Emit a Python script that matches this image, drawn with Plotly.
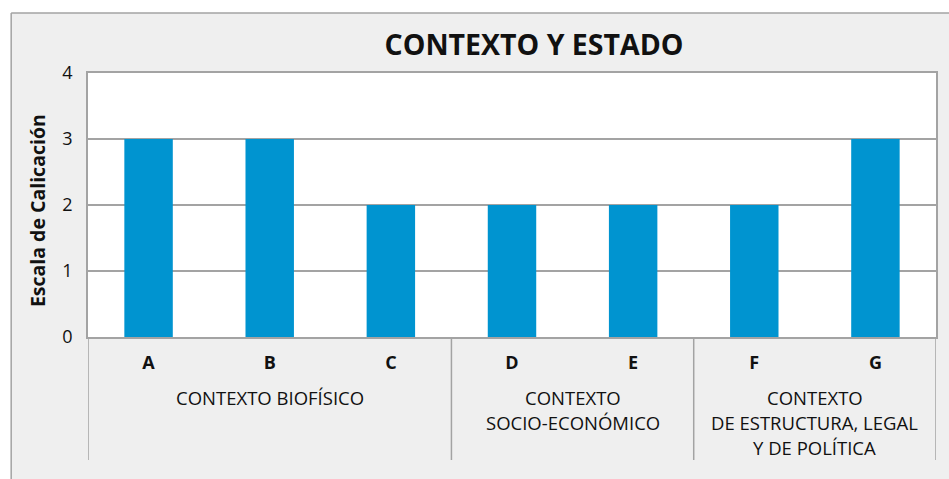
import plotly.graph_objects as go

# ---- data ----
categories = ["A", "B", "C", "D", "E", "F", "G"]
values = [3, 3, 2, 2, 2, 2, 3]
group_labels = [
    "CONTEXTO BIOFÍSICO",
    "CONTEXTO\nSOCIO-ECONÓMICO",
    "CONTEXTO\nDE ESTRUCTURA, LEGAL\nY DE POLÍTICA",
]
group_sizes = [3, 2, 2]
y_ticks = [0, 1, 2, 3, 4]
title_text = "CONTEXTO Y ESTADO"
y_title = "Escala de Calicación"

# ---- layout geometry (pixels) ----
W_FIG, H_FIG = 949, 479
L, R, T, B = 88, 11, 73, 142
PW = W_FIG - L - R
PH = H_FIG - T - B
FONT = "Open Sans"
GRID = "#a3a3a3"
BG = "#efefef"
BAR = "#0094d0"


def fx(px):
    return (px - L) / PW


def fy(py):
    return (H_FIG - B - py) / PH


fig = go.Figure()
fig.add_trace(go.Bar(
    x=categories, y=values, width=0.4,
    marker=dict(color=BAR, line=dict(width=0)),
    hoverinfo="x+y",
))

shapes = []
# white margins outside the grey frame
shapes.append(dict(type="rect", xref="paper", yref="paper", layer="below",
                   x0=fx(-10), x1=fx(11), y0=fy(-10), y1=fy(500),
                   fillcolor="white", line=dict(width=0)))
shapes.append(dict(type="rect", xref="paper", yref="paper", layer="below",
                   x0=fx(-10), x1=fx(960), y0=fy(-10), y1=fy(13),
                   fillcolor="white", line=dict(width=0)))
shapes.append(dict(type="line", xref="paper", yref="paper", layer="below",
                   x0=fx(11), x1=fx(960), y0=fy(13), y1=fy(13),
                   line=dict(color=GRID, width=1.5)))
shapes.append(dict(type="line", xref="paper", yref="paper", layer="below",
                   x0=fx(11), x1=fx(11), y0=fy(13), y1=fy(500),
                   line=dict(color=GRID, width=1.5)))

# group dividers and group labels
annotations = []
start = 0
bounds = [-0.5]
for lab, n in zip(group_labels, group_sizes):
    center = start + (n - 1) / 2
    for i, line in enumerate(lab.split("\n")):
        annotations.append(dict(
            x=center, xref="x", y=fy(397), yref="paper",
            text=line, showarrow=False, yanchor="middle", xanchor="center",
            yshift=-25 * i,
            font=dict(family=FONT, size=18.5, color="#111111"),
        ))
    start += n
    bounds.append(start - 0.5)
for bx in bounds:
    shapes.append(dict(type="line", xref="x", yref="paper",
                       x0=bx, x1=bx, y0=0, y1=fy(460),
                       line=dict(color=GRID, width=1.5)))

# y axis title
annotations.append(dict(
    x=fx(37), xref="paper", y=fy(211), yref="paper", text=y_title,
    textangle=-90, showarrow=False, xanchor="center", yanchor="middle",
    font=dict(family=FONT, size=19.5, color="#111111", weight="bold"),
))

fig.update_layout(
    width=W_FIG, height=H_FIG,
    margin=dict(l=L, r=R, t=T, b=B, pad=0),
    paper_bgcolor=BG, plot_bgcolor="white",
    showlegend=False,
    title=dict(text=title_text, x=534 / W_FIG, xref="container",
               y=1 - 45 / H_FIG, yref="container",
               xanchor="center", yanchor="middle",
               font=dict(family=FONT, size=28.5, color="#111111", weight="bold")),
    shapes=shapes,
    annotations=annotations,
    xaxis=dict(
        type="category", categoryorder="array", categoryarray=categories,
        range=[-0.5, len(categories) - 0.5],
        showgrid=False, showline=True, linecolor=GRID, linewidth=1.5,
        mirror=True, ticks="", ticklabelstandoff=9,
        tickfont=dict(family=FONT, size=18, color="#111111", weight="bold"),
        fixedrange=True,
    ),
    yaxis=dict(
        range=[0, 4], tickvals=y_ticks, showgrid=True, gridcolor=GRID,
        gridwidth=1.5, showline=True, linecolor=GRID, linewidth=1.5,
        mirror=True, ticks="", ticklabelstandoff=10, zeroline=False,
        tickfont=dict(family=FONT, size=18, color="#111111"),
        fixedrange=True,
    ),
    font=dict(family=FONT),
)

fig.write_html(
    "out.html",
    config={"displayModeBar": False},
    post_script="document.body.style.margin='0px';document.body.style.padding='0px';",
)
